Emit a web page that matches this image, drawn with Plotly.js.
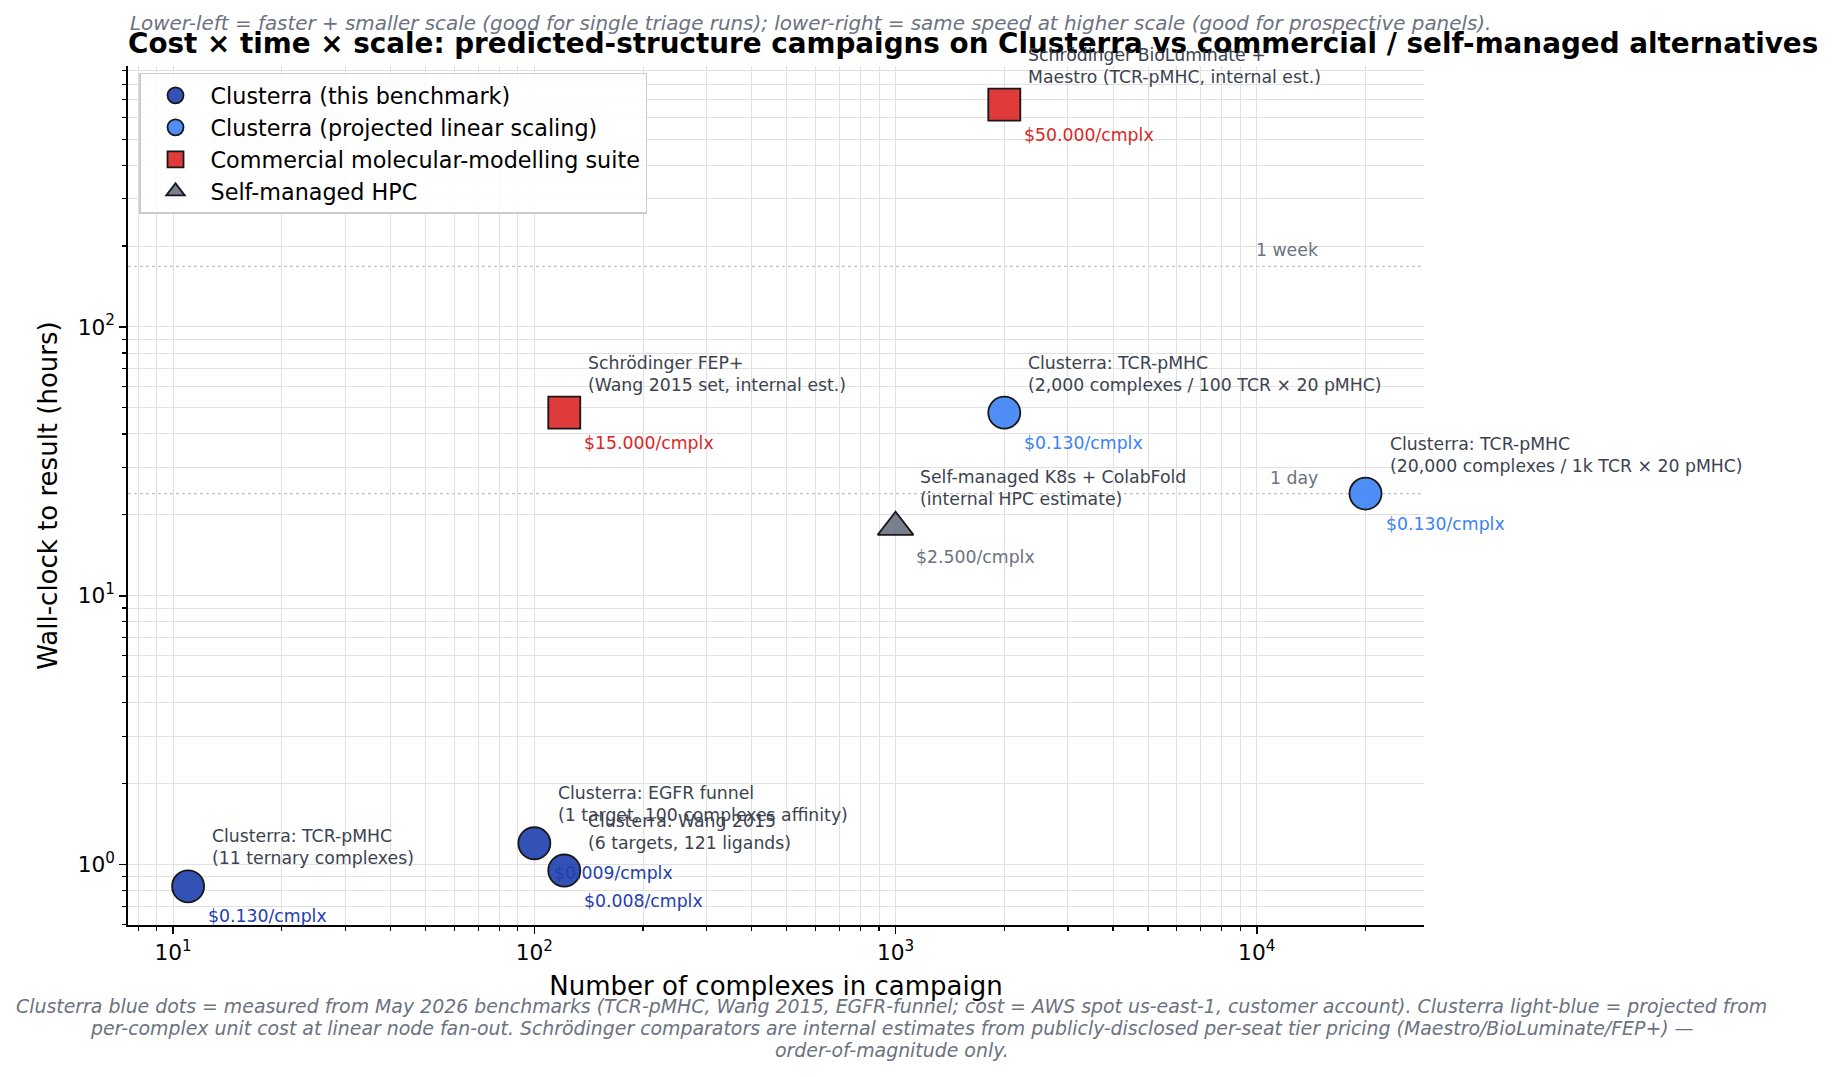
<!DOCTYPE html>
<html><head><meta charset="utf-8">
<script src="https://cdn.plot.ly/plotly-3.0.1.min.js"></script>
<style>html,body{margin:0;padding:0;background:#fff}#chart{width:1834px;height:1077px}</style>
</head><body><div id="chart"></div>
<script>
// ---------------- data ----------------
const benchNames = ["Clusterra: TCR-pMHC<br>(11 ternary complexes)",
                    "Clusterra: EGFR funnel<br>(1 target, 100 complexes affinity)",
                    "Clusterra: Wang 2015<br>(6 targets, 121 ligands)"];
const benchComplexes = [11, 100, 121];
const benchHours = [0.83, 1.2, 0.95];
const benchCost = [0.130, 0.009, 0.008];

const projNames = ["Clusterra: TCR-pMHC<br>(2,000 complexes / 100 TCR × 20 pMHC)",
                   "Clusterra: TCR-pMHC<br>(20,000 complexes / 1k TCR × 20 pMHC)"];
const projComplexes = [2000, 20000];
const projHours = [48, 24];
const projCost = [0.130, 0.130];

const commNames = ["Schrödinger FEP+<br>(Wang 2015 set, internal est.)",
                   "Schrödinger BioLuminate +<br>Maestro (TCR-pMHC, internal est.)"];
const commComplexes = [121, 2000];
const commHours = [48, 672];
const commCost = [15.0, 50.0];

const hpcNames = ["Self-managed K8s + ColabFold<br>(internal HPC estimate)"];
const hpcComplexes = [1000];
const hpcHours = [18];
const hpcCost = [2.5];

const refHours = [24, 168];
const refLabels = ["1 day", "1 week"];
const refLabelX = 15000;

const xTickVals = [10, 100, 1000, 10000];
const xTickText = ["10<sup>1</sup>", "10<sup>2</sup>", "10<sup>3</sup>", "10<sup>4</sup>"];
const yTickVals = [1, 10, 100];
const yTickText = ["10<sup>0</sup>", "10<sup>1</sup>", "10<sup>2</sup>"];

const titleText = "Cost × time × scale: predicted-structure campaigns on Clusterra vs commercial / self-managed alternatives";
const subtitleText = "Lower-left = faster + smaller scale (good for single triage runs); lower-right = same speed at higher scale (good for prospective panels).";
const footerLines = [
  "Clusterra blue dots = measured from May 2026 benchmarks (TCR-pMHC, Wang 2015, EGFR-funnel; cost = AWS spot us-east-1, customer account). Clusterra light-blue = projected from",
  "per-complex unit cost at linear node fan-out. Schrödinger comparators are internal estimates from publicly-disclosed per-seat tier pricing (Maestro/BioLuminate/FEP+) —",
  "order-of-magnitude only."
];

// ---------------- series ----------------
const FONT = "DejaVu Sans, Verdana, sans-serif";
const series = [
  {label: "Clusterra (this benchmark)", x: benchComplexes, y: benchHours, cost: benchCost, names: benchNames,
   color: "#1e40af", symbol: "circle", size: 32},
  {label: "Clusterra (projected linear scaling)", x: projComplexes, y: projHours, cost: projCost, names: projNames,
   color: "#3b82f6", symbol: "circle", size: 32},
  {label: "Commercial molecular-modelling suite", x: commComplexes, y: commHours, cost: commCost, names: commNames,
   color: "#dc2626", symbol: "square", size: 32},
  {label: "Self-managed HPC", x: hpcComplexes, y: hpcHours, cost: hpcCost, names: hpcNames,
   color: "#6b7280", symbol: "triangle-up", size: 31}
];

const traces = series.map(s => ({
  type: "scatter", mode: "markers", name: s.label, x: s.x, y: s.y,
  marker: {color: s.color, symbol: s.symbol, size: s.size, opacity: 0.9,
           line: {color: "#000", width: 1.8}},
  cliponaxis: false, hoverinfo: "x+y+name"
}));

const annotations = [];
series.forEach(s => {
  s.x.forEach((xv, i) => {
    annotations.push({x: Math.log10(xv), y: Math.log10(s.y[i]), xref: "x", yref: "y",
      text: s.names[i], showarrow: false, xanchor: "left", yanchor: "bottom", align: "left",
      xshift: 22, yshift: 16, font: {family: FONT, size: 17.3, color: "#3b4350"}});
    annotations.push({x: Math.log10(xv), y: Math.log10(s.y[i]), xref: "x", yref: "y",
      text: "$" + s.cost[i].toFixed(3) + "/cmplx", showarrow: false, xanchor: "left", yanchor: "middle",
      xshift: 18, yshift: -30, font: {family: FONT, size: 17.3, color: s.color}});
  });
});

const shapes = [];
refHours.forEach((h, i) => {
  shapes.push({type: "line", xref: "paper", x0: 0, x1: 1, yref: "y", y0: h, y1: h,
    line: {color: "#c4c4c4", width: 1.3, dash: "dot"}, layer: "below"});
  annotations.push({x: Math.log10(refLabelX), y: Math.log10(h), xref: "x", yref: "y", text: refLabels[i],
    showarrow: false, xanchor: "right", yanchor: "bottom", yshift: 4,
    font: {family: FONT, size: 17.3, color: "#6b7280"}});
});

annotations.push({xref: "paper", yref: "paper", x: 0, y: 1.05, xanchor: "left", yanchor: "middle",
  text: "<i>" + subtitleText + "</i>", showarrow: false, font: {family: FONT, size: 19.9, color: "#6b7280"}});
footerLines.forEach((line, i) => {
  annotations.push({xref: "paper", yref: "paper", x: 0.5894, y: -0.0943 - 0.0256 * i,
    xanchor: "center", yanchor: "middle", text: "<i>" + line + "</i>", showarrow: false,
    font: {family: FONT, size: 18.9, color: "#6b7280"}});
});

const gridc = "#e1e1e1";
const layout = {
  width: 1834, height: 1077,
  margin: {l: 128, r: 410, t: 66, b: 152, pad: 0},
  paper_bgcolor: "#fff", plot_bgcolor: "#fff",
  font: {family: FONT, color: "#000", size: 21.7},
  title: {text: "<b>" + titleText + "</b>", xref: "paper", x: 0, xanchor: "left",
          yref: "container", y: 0.960, yanchor: "middle", font: {family: FONT, size: 27.8, color: "#000"}},
  showlegend: true,
  legend: {x: 0.0085, y: 0.992, xanchor: "left", yanchor: "top", bgcolor: "rgba(255,255,255,0.85)",
           bordercolor: "#cccccc", borderwidth: 1.5, font: {family: FONT, size: 22.3, color: "#000"},
           itemsizing: "trace", itemwidth: 60},
  xaxis: {type: "log", range: [0.875, 4.463], tickmode: "array", tickvals: xTickVals, ticktext: xTickText,
          ticks: "outside", ticklen: 7, tickwidth: 1.6, tickcolor: "#000",
          showline: true, linecolor: "#000", linewidth: 1.7, mirror: false,
          showgrid: true, gridcolor: gridc, gridwidth: 1, zeroline: false,
          minor: {dtick: "D1", ticks: "outside", ticklen: 4, tickwidth: 1.2, tickcolor: "#000",
                  showgrid: true, gridcolor: gridc, gridwidth: 1},
          tickfont: {family: FONT, size: 21.7, color: "#000"},
          title: {text: "Number of complexes in campaign", font: {family: FONT, size: 26, color: "#000"}, standoff: 13}},
  yaxis: {type: "log", range: [-0.225, 2.971], tickmode: "array", tickvals: yTickVals, ticktext: yTickText,
          ticks: "outside", ticklen: 7, tickwidth: 1.6, tickcolor: "#000",
          showline: true, linecolor: "#000", linewidth: 1.7, mirror: false,
          showgrid: true, gridcolor: gridc, gridwidth: 1, zeroline: false,
          minor: {dtick: "D1", ticks: "outside", ticklen: 4, tickwidth: 1.2, tickcolor: "#000",
                  showgrid: true, gridcolor: gridc, gridwidth: 1},
          tickfont: {family: FONT, size: 21.7, color: "#000"},
          title: {text: "Wall-clock to result (hours)", font: {family: FONT, size: 26, color: "#000"}, standoff: 12}},
  shapes: shapes,
  annotations: annotations
};

Plotly.newPlot("chart", traces, layout, {displayModeBar: false, staticPlot: true});
</script>
</body></html>
